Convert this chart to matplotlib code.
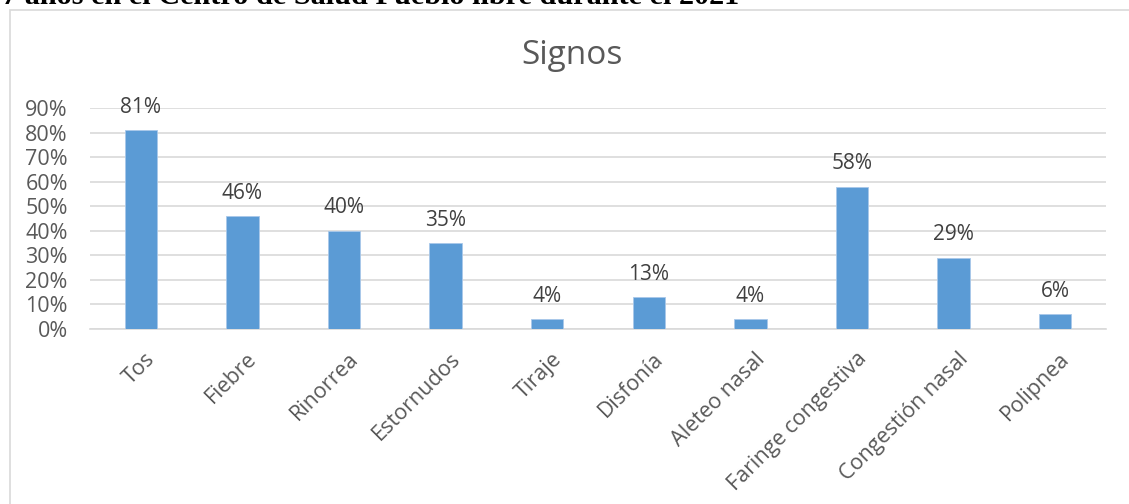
import matplotlib
matplotlib.use("Agg")
import matplotlib.pyplot as plt
import matplotlib.transforms as mtransforms
from matplotlib.patches import Rectangle
from matplotlib.ticker import FuncFormatter, MultipleLocator

categories = ["Tos", "Fiebre", "Rinorrea", "Estornudos", "Tiraje", "Disfonía",
              "Aleteo nasal", "Faringe congestiva", "Congestión nasal", "Polipnea"]
values = [81, 46, 40, 35, 4, 13, 4, 58, 29, 6]
title = "Signos"
header = "7 años en el Centro de Salud Pueblo libre durante el 2021"

W, H = 1129, 504
fig = plt.figure(figsize=(W / 100, H / 100), dpi=100)
fig.patch.set_facecolor("white")

# outer chart border (left and top visible)
fig.add_artist(Rectangle((10 / W, -0.1), 1.2, 1 - 10 / H + 0.1, transform=fig.transFigure,
                         fill=False, edgecolor="#d9d9d9", linewidth=1.2))

# cut-off header text above the chart
fig.text(2 / W, 1 - 4 / H, header, family="Liberation Serif", fontsize=21.8,
         fontweight="bold", color="black", va="baseline", ha="left")

ax = fig.add_axes([90 / W, 1 - 329 / H, (1106 - 90) / W, (329 - 108) / H])
x = range(len(categories))
bars = ax.bar(x, values, width=0.32, color="#5b9bd5", edgecolor="#a9c8ea", linewidth=0.6, zorder=3)
ax.set_xlim(-0.5, len(categories) - 0.5)
ax.set_ylim(0, 90)
ax.yaxis.set_major_locator(MultipleLocator(10))
ax.yaxis.set_major_formatter(FuncFormatter(lambda v, p: f"{int(round(v))}%"))
ax.grid(axis="y", color="#d9d9d9", linewidth=1.2, zorder=0)
for s in ["top", "right", "left"]:
    ax.spines[s].set_visible(False)
ax.spines["bottom"].set_color("#d9d9d9")
ax.spines["bottom"].set_linewidth(1.2)
ax.tick_params(axis="both", length=0, colors="#595959", labelsize=15.5)
ax.tick_params(axis="y", pad=16)
ax.tick_params(axis="x", pad=14)
ax.set_xticks(list(x))
ax.set_xticklabels(categories, rotation=45, ha="right", rotation_mode="anchor",
                   family="Open Sans", fontsize=15.5, color="#595959")
shift = mtransforms.ScaledTranslation(4 / 100, 0, fig.dpi_scale_trans)
for lbl in ax.get_xticklabels():
    lbl.set_transform(lbl.get_transform() + shift)
for lbl in ax.get_yticklabels():
    lbl.set_family("Open Sans")

for i, v in enumerate(values):
    ax.annotate(f"{v}%", (i, v), xytext=(0, 9), textcoords="offset points",
                ha="center", va="bottom", family="Open Sans", fontsize=15, color="#404040")

fig.text(572 / W, 1 - 55 / H, title, ha="center", va="center", family="Open Sans",
         fontsize=24, color="#595959")

fig.savefig("out.png", dpi=100)
